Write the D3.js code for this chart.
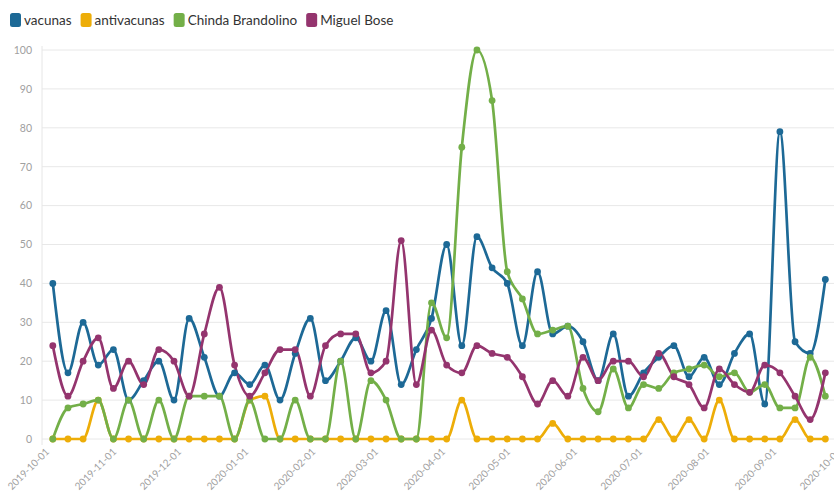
<!DOCTYPE html>
<html>
<head>
<meta charset="utf-8">
<script src="https://cdn.jsdelivr.net/npm/d3@7"></script>
<style>
  body { margin: 0; background: #fff; font-family: Lato, "Open Sans", sans-serif; }
  #chart { width: 834px; height: 491px; overflow: hidden; }
</style>
</head>
<body>
<div id="chart"></div>
<script>
const semanas = ["2019-10-06","2019-10-13","2019-10-20","2019-10-27","2019-11-03","2019-11-10","2019-11-17","2019-11-24",
  "2019-12-01","2019-12-08","2019-12-15","2019-12-22","2019-12-29","2020-01-05","2020-01-12","2020-01-19","2020-01-26",
  "2020-02-02","2020-02-09","2020-02-16","2020-02-23","2020-03-01","2020-03-08","2020-03-15","2020-03-22","2020-03-29",
  "2020-04-05","2020-04-12","2020-04-19","2020-04-26","2020-05-03","2020-05-10","2020-05-17","2020-05-24","2020-05-31",
  "2020-06-07","2020-06-14","2020-06-21","2020-06-28","2020-07-05","2020-07-12","2020-07-19","2020-07-26","2020-08-02",
  "2020-08-09","2020-08-16","2020-08-23","2020-08-30","2020-09-06","2020-09-13","2020-09-20","2020-09-27"];

const vacunas = [40,17,30,19,23,10,15,20,10,31,21,11,17,14,19,10,22,31,15,20,26,20,33,14,23,31,
  50,24,52,44,40,24,43,27,29,25,15,27,11,17,21,24,16,21,14,22,27,9,79,25,22,41];
const antivacunas = [0,0,0,10,0,0,0,0,0,0,0,0,0,10,11,0,0,0,0,0,0,0,0,0,0,0,
  0,10,0,0,0,0,0,4,0,0,0,0,0,0,5,0,5,0,10,0,0,0,0,5,0,0];
const chinda = [0,8,9,10,0,10,0,10,0,11,11,11,0,10,0,0,10,0,0,20,0,15,10,0,0,35,
  26,75,100,87,43,36,27,28,29,13,7,18,8,14,13,17,18,19,16,17,12,14,8,8,21,11];
const miguel = [24,11,20,26,13,20,14,23,20,11,27,39,19,11,17,23,23,11,24,27,27,17,20,51,14,28,
  19,17,24,22,21,16,9,15,11,21,15,20,20,16,22,16,14,8,18,14,12,19,17,11,5,17];

const series = [
  { nombre: "vacunas", valores: vacunas, color: "#1d6996" },
  { nombre: "antivacunas", valores: antivacunas, color: "#edad08" },
  { nombre: "Chinda Brandolino", valores: chinda, color: "#73af48" },
  { nombre: "Miguel Bose", valores: miguel, color: "#94346e" }
];
const yTicks = [0,10,20,30,40,50,60,70,80,90,100];

const parse = d3.timeParse("%Y-%m-%d");
const fechas = semanas.map(parse);

const width = 834, height = 491;
const margin = { top: 50, right: 0, bottom: 52, left: 42 };
const svg = d3.select("#chart").append("svg").attr("width", width).attr("height", height);

const xScale = d3.scaleTime().domain([parse("2019-10-01"), parse("2020-10-01")]).range([margin.left, 834]);
const yScale = d3.scaleLinear().domain([0, 100]).range([height - margin.bottom, margin.top]);

// grid
svg.append("g").selectAll("line").data(yTicks).join("line")
  .attr("x1", margin.left).attr("x2", width)
  .attr("y1", (d) => yScale(d)).attr("y2", (d) => yScale(d))
  .attr("stroke", "#e8e8e8").attr("stroke-width", 1);
svg.append("line").attr("x1", margin.left).attr("x2", margin.left)
  .attr("y1", margin.top - 4).attr("y2", yScale(0) + 6).attr("stroke", "#e6e6e6");

// y axis labels
const yAxis = svg.append("g").attr("transform", `translate(${margin.left},0)`)
  .call(d3.axisLeft(yScale).tickValues(yTicks).tickSize(0).tickPadding(10));
yAxis.select(".domain").remove();
yAxis.selectAll("text").attr("fill", "#a0a0a0").style("font-size", "10.5px").style("font-family", "Lato, sans-serif");

// x axis
const xAxis = svg.append("g").attr("transform", `translate(0,${yScale(0)})`)
  .call(d3.axisBottom(xScale).ticks(d3.timeMonth.every(1)).tickFormat(d3.timeFormat("%Y-%m-%d")).tickSize(0));
xAxis.select(".domain").remove();
xAxis.selectAll("text").attr("fill", "#a0a0a0").style("font-size", "10px").style("font-family", "Lato, sans-serif")
  .attr("text-anchor", "end").attr("transform", "translate(5,11) rotate(-45)").attr("dy", "0.35em").attr("y", 0);

// lines
const line = d3.line().x((d, i) => xScale(fechas[i])).y((d) => yScale(d)).curve(d3.curveMonotoneX);
series.forEach((s) => {
  svg.append("path").datum(s.valores).attr("fill", "none").attr("stroke", s.color)
    .attr("stroke-width", 2.7).attr("stroke-linejoin", "round").attr("d", line);
});
series.forEach((s) => {
  svg.append("g").selectAll("circle").data(s.valores).join("circle")
    .attr("cx", (d, i) => xScale(fechas[i])).attr("cy", (d) => yScale(d))
    .attr("r", 3.4).attr("fill", s.color);
});

// legend
const legend = svg.append("g").attr("transform", "translate(10,20)");
let lx = 0;
series.forEach((s) => {
  const g = legend.append("g").attr("transform", `translate(${lx},0)`);
  g.append("rect").attr("x", 0).attr("y", -7).attr("width", 11).attr("height", 14).attr("rx", 2.5).attr("fill", s.color);
  const t = g.append("text").attr("x", 14).attr("y", 0).attr("dy", "0.35em")
    .attr("fill", "#333").style("font-size", "13.5px").style("font-family", "Lato, sans-serif").text(s.nombre);
  lx += 14 + t.node().getComputedTextLength() + 9;
});
</script>
</body>
</html>
